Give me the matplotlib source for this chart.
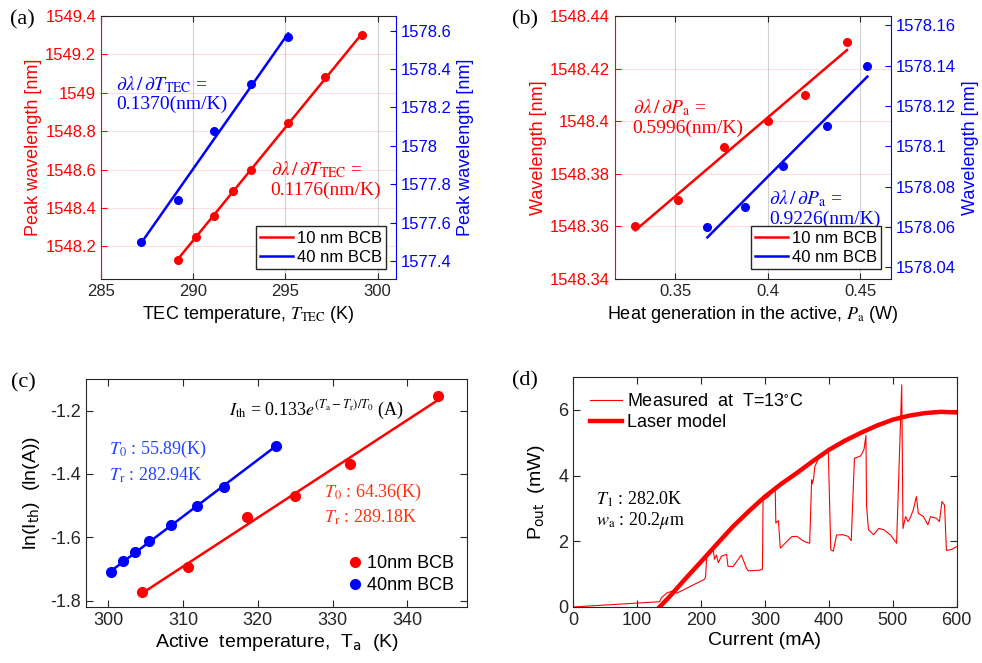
import numpy as np
import matplotlib.pyplot as plt
from matplotlib.lines import Line2D

plt.rcParams['font.family'] = ['Liberation Sans', 'DejaVu Sans']
plt.rcParams['mathtext.fontset'] = 'stix'
plt.rcParams['xtick.direction'] = 'in'
plt.rcParams['ytick.direction'] = 'in'

RED = '#ff0000'
BLUE = '#0000ff'
DARK = '#262626'

# (a) peak wavelength vs TEC temperature
tec_10 = [289.15, 290.15, 291.15, 292.15, 293.15, 295.15, 297.15, 299.15]
lam_10 = [1548.13, 1548.25, 1548.36, 1548.49, 1548.60, 1548.84, 1549.08, 1549.30]
tec_40 = [287.15, 289.15, 291.15, 293.15, 295.15]
lam_40 = [1577.50, 1577.72, 1578.08, 1578.32, 1578.57]

# (b) wavelength vs heat generation
pa_10 = [0.3283, 0.3514, 0.3764, 0.4000, 0.4199, 0.4428]
wl_10 = [1548.36, 1548.37, 1548.39, 1548.40, 1548.41, 1548.43]
pa_40 = [0.3673, 0.3875, 0.4083, 0.4321, 0.4538]
wl_40 = [1578.06, 1578.07, 1578.09, 1578.11, 1578.14]

# (c) ln(Ith) vs active temperature
ta_10 = [304.5, 310.6, 318.5, 325.0, 332.4, 344.1]
lnI_10 = [-1.774, -1.693, -1.537, -1.468, -1.368, -1.155]
ta_40 = [300.4, 302.0, 303.6, 305.4, 308.4, 311.9, 315.5, 322.4]
lnI_40 = [-1.711, -1.676, -1.646, -1.612, -1.560, -1.501, -1.440, -1.311]

# (d) L-I curve
cur_meas = [0, 135, 138, 146, 154, 162, 205, 207, 209, 214, 219, 221, 224, 227, 232,
            240, 242, 250, 263, 271, 274, 292, 296, 297, 305, 316, 317, 319, 321, 324,
            334, 342, 350, 357, 363, 370, 373, 374, 376, 378, 384, 392, 399, 403, 407,
            412, 422, 430, 435, 440, 445, 450, 455, 458, 459, 462, 470, 478, 486, 496,
            506, 514, 516, 520, 524, 527, 532, 537, 540, 548, 555, 559, 568, 573, 577,
            581, 584, 592, 600]
p_meas = [0, 0.16, 0.28, 0.42, 0.48, 0.42, 0.84, 0.90, 1.62, 1.70, 1.74, 1.45, 1.58, 1.35, 1.55,
          1.60, 1.24, 1.23, 1.58, 1.18, 1.10, 1.12, 1.15, 3.25, 3.35, 3.60, 2.55, 2.60, 2.62, 1.79,
          1.99, 2.14, 2.15, 2.05, 1.98, 1.94, 3.87, 3.75, 3.90, 4.27, 4.53, 4.68, 4.80, 1.74, 1.70,
          2.19, 2.20, 2.15, 2.02, 4.53, 4.56, 4.60, 4.80, 5.22, 3.06, 2.35, 2.20, 2.39, 2.35, 2.20,
          1.94, 6.76, 2.39, 2.75, 2.60, 2.70, 2.95, 3.36, 2.85, 2.75, 2.50, 2.75, 2.70, 2.60, 3.21,
          3.10, 1.72, 1.75, 1.84]
cur_model = [135, 150, 175, 200, 225, 250, 275, 300, 325, 350, 375, 400, 425, 450,
             475, 500, 525, 550, 575, 600]
p_model = [0, 0.30, 0.85, 1.38, 1.92, 2.45, 2.92, 3.36, 3.74, 4.08, 4.44, 4.78, 5.06, 5.30,
           5.52, 5.70, 5.82, 5.90, 5.94, 5.92]

fig = plt.figure(figsize=(9.82, 6.63), dpi=100)


def twin_style(ax, ax2):
    ax.spines['left'].set_color(RED)
    ax.spines['right'].set_visible(False)
    ax2.spines['left'].set_visible(False)
    ax2.spines['right'].set_color(BLUE)
    for s in ['top', 'bottom']:
        ax.spines[s].set_color(DARK)
        ax2.spines[s].set_visible(False)
    ax.tick_params(axis='y', colors=RED, labelsize=12, length=4)
    ax2.tick_params(axis='y', colors=BLUE, labelsize=12, length=4)
    ax.tick_params(axis='x', colors=DARK, labelsize=12, length=4, top=True)
    ax.grid(axis='x', color='0.7', alpha=0.6, lw=0.8)
    ax.grid(axis='y', color=RED, alpha=0.13, lw=0.8)
    ax.set_axisbelow(True)


# ---- (a)
ax = fig.add_axes([0.1029, 0.5792, 0.3004, 0.3967])
ax2 = ax.twinx()
twin_style(ax, ax2)
p = np.polyfit(tec_10, lam_10, 1)
ax.plot(tec_10, np.polyval(p, tec_10), color=RED, lw=1.8)
ax.plot(tec_10, lam_10, 'o', color=RED, ms=5.5)
p = np.polyfit(tec_40, lam_40, 1)
ax2.plot(tec_40, np.polyval(p, tec_40), color=BLUE, lw=1.8)
ax2.plot(tec_40, lam_40, 'o', color=BLUE, ms=5.5)
ax.set_xlim(285, 301)
ax.set_xticks([285, 290, 295, 300])
ax.set_ylim(1548.03, 1549.4)
ax.set_yticks([1548.2, 1548.4, 1548.6, 1548.8, 1549, 1549.2, 1549.4])
ax.set_yticklabels(['1548.2', '1548.4', '1548.6', '1548.8', '1549', '1549.2', '1549.4'])
ax2.set_ylim(1577.306, 1578.677)
ax2.set_yticks([1577.4, 1577.6, 1577.8, 1578, 1578.2, 1578.4, 1578.6])
ax2.set_yticklabels(['1577.4', '1577.6', '1577.8', '1578', '1578.2', '1578.4', '1578.6'])
ax.set_xlabel(r'TEC temperature, $T_\mathrm{TEC}$ (K)', fontsize=13, color='black', labelpad=4)
ax.set_ylabel('Peak wavelength [nm]', fontsize=13, color=RED, labelpad=2)
ax2.set_ylabel('Peak wavelength [nm]', fontsize=13, color=BLUE, rotation=90, labelpad=4)
ax2.text(0.05, 0.78, r'$\partial\lambda\,/\,\partial T_\mathrm{TEC}$ =' + '\n0.1370(nm/K)',
         transform=ax.transAxes, color=BLUE, fontsize=14, family='Liberation Serif',
         va='top', linespacing=1.1)
ax2.text(0.575, 0.455, r'$\partial\lambda\,/\,\partial T_\mathrm{TEC}$ =' + '\n0.1176(nm/K)',
         transform=ax.transAxes, color=RED, fontsize=14, family='Liberation Serif',
         va='top', linespacing=1.1)
h = [Line2D([], [], color=RED, lw=1.8), Line2D([], [], color=BLUE, lw=1.8)]
leg = ax2.legend(h, ['10 nm BCB', '40 nm BCB'], loc='lower right', fontsize=12,
                 fancybox=False, edgecolor=DARK, framealpha=1, handlelength=2.0,
                 handletextpad=0.2, borderpad=0.25, labelspacing=0.25, borderaxespad=0.6)
leg.get_frame().set_linewidth(1.0)

# ---- (b)
ax = fig.add_axes([0.626, 0.5792, 0.2814, 0.3967])
ax2 = ax.twinx()
twin_style(ax, ax2)
p = np.polyfit(pa_10, wl_10, 1)
ax.plot(pa_10, np.polyval(p, pa_10), color=RED, lw=1.8)
ax.plot(pa_10, wl_10, 'o', color=RED, ms=5.5)
p = np.polyfit(pa_40, wl_40, 1)
ax2.plot(pa_40, np.polyval(p, pa_40), color=BLUE, lw=1.8)
ax2.plot(pa_40, wl_40, 'o', color=BLUE, ms=5.5)
ax.set_xlim(0.3172, 0.4666)
ax.set_xticks([0.35, 0.4, 0.45])
ax.set_xticklabels(['0.35', '0.4', '0.45'])
ax.set_ylim(1548.34, 1548.44)
ax.set_yticks([1548.34, 1548.36, 1548.38, 1548.40, 1548.42, 1548.44])
ax.set_yticklabels(['1548.34', '1548.36', '1548.38', '1548.4', '1548.42', '1548.44'])
ax2.set_ylim(1578.0342, 1578.1646)
ax2.set_yticks([1578.04, 1578.06, 1578.08, 1578.10, 1578.12, 1578.14, 1578.16])
ax2.set_yticklabels(['1578.04', '1578.06', '1578.08', '1578.1', '1578.12', '1578.14', '1578.16'])
ax.set_xlabel(r'Heat generation in the active, $P_\mathrm{a}$ (W)', fontsize=13,
              color='black', labelpad=4)
ax.set_ylabel('Wavelength [nm]', fontsize=13, color=RED, labelpad=2)
ax2.set_ylabel('Wavelength [nm]', fontsize=13, color=BLUE, rotation=90, labelpad=4)
ax2.text(0.065, 0.69, r'$\partial\lambda\,/\,\partial P_\mathrm{a}$ =' + '\n0.5996(nm/K)',
         transform=ax.transAxes, color=RED, fontsize=14, family='Liberation Serif',
         va='top', linespacing=1.1)
ax2.text(0.56, 0.345, r'$\partial\lambda\,/\,\partial P_\mathrm{a}$ =' + '\n0.9226(nm/K)',
         transform=ax.transAxes, color=BLUE, fontsize=14, family='Liberation Serif',
         va='top', linespacing=1.1)
leg = ax2.legend(h, ['10 nm BCB', '40 nm BCB'], loc='lower right', fontsize=12,
                 fancybox=False, edgecolor=DARK, framealpha=1, handlelength=2.0,
                 handletextpad=0.2, borderpad=0.25, labelspacing=0.25, borderaxespad=0.6)
leg.get_frame().set_linewidth(1.0)

# ---- (c)
ax = fig.add_axes([0.0876, 0.0845, 0.388, 0.3439])
p = np.polyfit(ta_10, lnI_10, 1)
ax.plot(ta_10, np.polyval(p, ta_10), color=RED, lw=1.8)
p = np.polyfit(ta_40, lnI_40, 1)
ax.plot(ta_40, np.polyval(p, ta_40), color=BLUE, lw=1.8)
ax.plot(ta_10, lnI_10, 'o', color=RED, ms=7, label='10nm BCB')
ax.plot(ta_40, lnI_40, 'o', color=BLUE, ms=7, label='40nm BCB')
ax.set_xlim(297, 348)
ax.set_ylim(-1.82, -1.10)
ax.set_xticks([300, 310, 320, 330, 340])
ax.set_yticks([-1.8, -1.6, -1.4, -1.2])
ax.set_yticklabels(['-1.8', '-1.6', '-1.4', '-1.2'])
ax.tick_params(labelsize=13, length=5, top=True, right=True, colors=DARK)
for s in ax.spines.values():
    s.set_color(DARK)
ax.set_xlabel(r'Active  temperature,  T$_\mathrm{a}$  (K)', fontsize=14, labelpad=2,
              math_fontfamily='dejavusans')
ax.set_ylabel(r'ln(I$_\mathrm{th}$)  (ln(A))', fontsize=14, labelpad=6,
              math_fontfamily='dejavusans')
ax.text(0.375, 0.86, r'$I_\mathrm{th}$ = 0.133$e^{(T_\mathrm{a}-T_\mathrm{r})/T_0}$ (A)',
        transform=ax.transAxes, fontsize=13, family='Liberation Serif', va='center')
ax.text(0.06, 0.635, r'$T_0$ : 55.89(K)' + '\n' + r'$T_\mathrm{r}$ : 282.94K',
        transform=ax.transAxes, fontsize=13, family='Liberation Serif', color='#2244ff',
        va='center', linespacing=1.35)
ax.text(0.625, 0.45, r'$T_0$ : 64.36(K)' + '\n' + r'$T_\mathrm{r}$ : 289.18K',
        transform=ax.transAxes, fontsize=13, family='Liberation Serif', color='#ff3010',
        va='center', linespacing=1.35)
ax.legend(loc='lower right', fontsize=13, frameon=False, handletextpad=0.1,
          labelspacing=0.3, borderaxespad=0.3, handlelength=1.2)

# ---- (d)
ax = fig.add_axes([0.5838, 0.0845, 0.3904, 0.3469])
ax.plot(cur_meas, p_meas, color=RED, lw=0.8, label=r'Measured  at  T=13$^{\circ}$C')
ax.plot(cur_model, p_model, color=RED, lw=3.2, label='Laser model')
ax.set_xlim(0, 600)
ax.set_ylim(0, 7)
ax.set_xticks([0, 100, 200, 300, 400, 500, 600])
ax.set_yticks([0, 2, 4, 6])
ax.tick_params(labelsize=13, length=5, top=True, right=True, colors=DARK)
for s in ax.spines.values():
    s.set_color(DARK)
ax.set_xlabel('Current (mA)', fontsize=14, labelpad=2)
ax.set_ylabel(r'P$_\mathrm{out}$  (mW)', fontsize=14, labelpad=8,
              math_fontfamily='dejavusans')
ax.text(0.06, 0.42, r'$T_1$ : 282.0K' + '\n' + r'$w_\mathrm{a}$ : 20.2$\mu$m',
        transform=ax.transAxes, fontsize=13, family='Liberation Serif', va='center',
        linespacing=1.1)
ax.legend(loc='upper left', fontsize=13, frameon=False, handlelength=1.8,
          handletextpad=0.3, labelspacing=0.2, borderaxespad=0.5)

# panel labels
for x, y, s in [(10, 20, '(a)'), (512, 20, '(b)'), (11, 383, '(c)'), (512, 381, '(d)')]:
    fig.text(x / 982, 1 - y / 663, s, fontsize=16, family='Liberation Serif', va='center')

fig.savefig('out.png', dpi=100)
